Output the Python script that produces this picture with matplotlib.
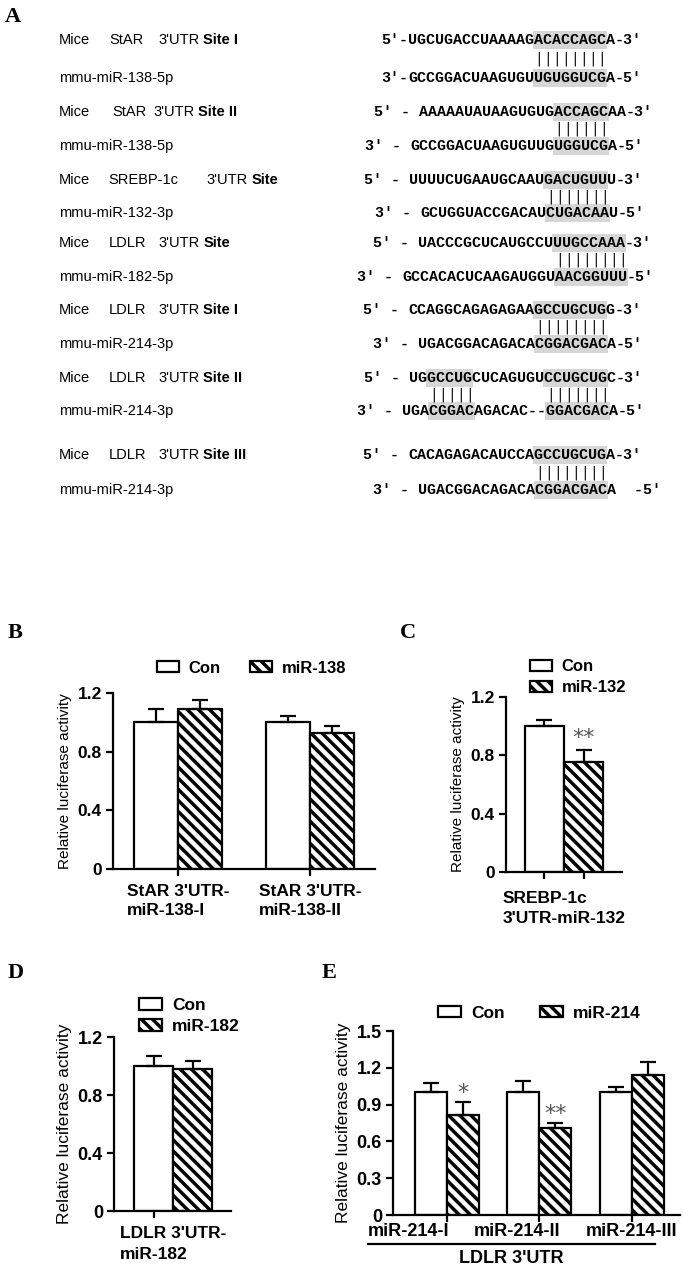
import numpy as np
import matplotlib.pyplot as plt
from matplotlib.patches import Rectangle
from matplotlib.transforms import ScaledTranslation

# ---------------- panel A : predicted binding sites ----------------
site_genes = ['StAR', 'StAR', 'SREBP-1c', 'LDLR', 'LDLR', 'LDLR', 'LDLR']
site_names = ['Site I', 'Site II', 'Site', 'Site', 'Site I', 'Site II', 'Site III']
mirna_names = ['mmu-miR-138-5p', 'mmu-miR-138-5p', 'mmu-miR-132-3p', 'mmu-miR-182-5p',
               'mmu-miR-214-3p', 'mmu-miR-214-3p', 'mmu-miR-214-3p']
target_seqs = ['UGCUGACCUAAAAGACACCAGCA', 'AAAAAUAUAAGUGUGACCAGCAA', 'UUUUCUGAAUGCAAUGACUGUUU',
               'UACCCGCUCAUGCCUUUGCCAAA', 'CCAGGCAGAGAGAAGCCUGCUGG', 'UGGCCUGCUCAGUGUCCUGCUGC',
               'CACAGAGACAUCCAGCCUGCUGA']
mirna_seqs = ['GCCGGACUAAGUGUUGUGGUCGA', 'GCCGGACUAAGUGUUGUGGUCGA', 'GCUGGUACCGACAUCUGACAAU',
              'GCCACACUCAAGAUGGUAACGGUUU', 'UGACGGACAGACACGGACGACA', 'UGACGGACAGACAC--GGACGACA',
              'UGACGGACAGACACGGACGACA']
# paired (seed) stretches, as [start, end) character indices
target_pairs = [[(14, 22)], [(15, 21)], [(15, 22)], [(15, 23)], [(14, 22)], [(2, 7), (15, 22)], [(14, 22)]]
mirna_pairs = [[(14, 22)], [(16, 22)], [(14, 21)], [(17, 25)], [(13, 21)], [(3, 8), (16, 23)], [(13, 21)]]

# ---------------- panels B-E : luciferase assays ----------------
b_groups = ["StAR 3'UTR-\nmiR-138-I", "StAR 3'UTR-\nmiR-138-II"]
b_con = [1.0, 1.0]
b_con_err = [0.09, 0.04]
b_mir = [1.09, 0.93]
b_mir_err = [0.06, 0.045]

c_groups = ["SREBP-1c\n3'UTR-miR-132"]
c_con = [1.0]
c_con_err = [0.04]
c_mir = [0.755]
c_mir_err = [0.085]
c_stars = ['**']

d_groups = ["LDLR 3'UTR-\nmiR-182"]
d_con = [1.0]
d_con_err = [0.07]
d_mir = [0.98]
d_mir_err = [0.055]

e_groups = ['miR-214-I', 'miR-214-II', 'miR-214-III']
e_con = [1.0, 1.0, 1.0]
e_con_err = [0.08, 0.09, 0.04]
e_mir = [0.815, 0.71, 1.14]
e_mir_err = [0.105, 0.04, 0.105]
e_stars = ['*', '**', '']

W, H = 683, 1268
plt.rcParams['font.family'] = ['Liberation Sans', 'DejaVu Sans']
plt.rcParams['hatch.linewidth'] = 2.5
fig = plt.figure(figsize=(W / 100, H / 100), dpi=100)


def px_axes(l, t, r, b):
    return fig.add_axes([l / W, 1 - b / H, (r - l) / W, (b - t) / H])


# background axes in pixel units for panel A and panel letters
ax0 = fig.add_axes([0, 0, 1, 1])
ax0.set_xlim(0, W)
ax0.set_ylim(H, 0)
ax0.axis('off')

for lab, (x, y) in zip('ABCDE', [(5, 17), (8, 633), (400, 633), (8, 973), (322, 973)]):
    ax0.text(x, y, lab, family='Liberation Serif', weight='bold', size=16, va='center')

mono = ['Liberation Mono', 'DejaVu Sans Mono']
cw = 9.0                      # character advance in px
seq_fs = cw / (0.6 * 100 / 72)
target_y = [40, 112, 180, 243, 310, 378, 455]
mirna_y = [78, 146, 213, 277, 344, 411, 490]
target_x0 = [408, 419, 409, 418, 408, 409, 408]
mirna_x0 = [408, 410, 420, 402, 418, 402, 418]
gene_x = [109, 112, 108, 109, 109, 109, 109]
utr_x = [158, 153, 206, 158, 158, 158, 158]

for i in range(len(site_genes)):
    ty, my = target_y[i], mirna_y[i]
    ax0.text(59, ty, 'Mice', size=10.5, va='center')
    ax0.text(gene_x[i], ty, site_genes[i], size=10.5, va='center')
    utr = ax0.text(utr_x[i], ty, "3'UTR", size=10.5, va='center')
    ax0.annotate(site_names[i], xy=(1, 0), xycoords=utr, xytext=(3, 0),
                 textcoords='offset points', va='bottom', size=10.5, weight='bold')
    ax0.text(59, my, mirna_names[i], size=10.5, va='center')

    dash = '-' if i == 0 else ' - '
    for seq, x0, y, pairs, p5, p3 in [(target_seqs[i], target_x0[i], ty, target_pairs[i], '5′', '3′'),
                                       (mirna_seqs[i], mirna_x0[i], my, mirna_pairs[i], '3′', '5′')]:
        for a, b in pairs:
            ax0.add_patch(Rectangle((x0 + a * cw - 1, y - 9), (b - a) * cw + 2, 18,
                                    color='#d6d6d6', lw=0, zorder=0))
        ax0.text(x0, y, p5 + dash, family=mono, weight='bold', size=seq_fs, ha='right', va='center')
        ax0.text(x0, y, seq, family=mono, weight='bold', size=seq_fs, va='center')
        tail = '  -' if (i == 6 and p3 == '5′') else '-'
        ax0.text(x0 + len(seq) * cw, y, tail + p3, family=mono, weight='bold', size=seq_fs, va='center')
    by = (ty + my) / 2
    for a, b in mirna_pairs[i]:
        for k in range(a, b):
            ax0.text(mirna_x0[i] + (k + 0.5) * cw, by, '|', family='DejaVu Sans', size=10,
                     ha='center', va='center')


def bars(ax, con, con_err, mir, mir_err, width, ymax, yticks, fs):
    x = np.arange(len(con))
    b1 = ax.bar(x - width / 2, con, width, color='white', edgecolor='black', linewidth=1.6, zorder=2)
    b2 = ax.bar(x + width / 2, mir, width, color='white', edgecolor='black', hatch='\\\\\\',
                linewidth=1.6, zorder=2)
    ax.errorbar(x - width / 2, con, yerr=[np.zeros(len(con)), con_err], fmt='none', ecolor='black',
                elinewidth=1.6, capsize=6, capthick=1.6, zorder=3)
    ax.errorbar(x + width / 2, mir, yerr=[np.zeros(len(mir)), mir_err], fmt='none', ecolor='black',
                elinewidth=1.6, capsize=6, capthick=1.6, zorder=3)
    ax.set_ylim(0, ymax)
    ax.set_yticks(yticks, labels=[('%g' % v) for v in yticks], fontsize=fs, fontweight='bold')
    for s in ['top', 'right']:
        ax.spines[s].set_visible(False)
    for s in ['left', 'bottom']:
        ax.spines[s].set_linewidth(1.6)
    ax.tick_params(axis='both', which='both', direction='out', length=5, width=1.6, pad=3)
    ax.patch.set_alpha(0)
    return b1, b2


def legend(ax, handles, labels, x, y, ncol, fs, colsp=2.0):
    ax.legend(handles, labels, loc='center left', bbox_to_anchor=(x / W, 1 - y / H),
              bbox_transform=fig.transFigure, ncol=ncol, frameon=False,
              prop={'weight': 'bold', 'size': fs}, handlelength=1.3, handleheight=0.65,
              handletextpad=0.6, columnspacing=colsp, borderpad=0, borderaxespad=0, labelspacing=0.35)


ylab = 'Relative luciferase activity'

# B
axb = px_axes(113, 693, 375, 869)
h = bars(axb, b_con, b_con_err, b_mir, b_mir_err, 0.333, 1.2, [0, 0.4, 0.8, 1.2], 12.5)
axb.set_xlim(-0.49, 1.49)
axb.set_xticks(range(len(b_groups)), labels=b_groups, fontsize=12.5, fontweight='bold',
               multialignment='left', linespacing=1.35)
axb.tick_params(axis='x', pad=6)
axb.set_ylabel(ylab, fontsize=11, labelpad=4)
legend(axb, h, ['Con', 'miR-138'], 157, 668, 2, 12, colsp=1.75)

# C
axc = px_axes(506, 697, 622, 872)
h = bars(axc, c_con, c_con_err, c_mir, c_mir_err, 0.33, 1.2, [0, 0.4, 0.8, 1.2], 12.5)
axc.set_xlim(-0.49, 0.49)
axc.set_xticks([0], labels=c_groups, fontsize=12.5, fontweight='bold', multialignment='left',
               linespacing=1.35)
axc.set_xticks([-0.165, 0.165], minor=True)
axc.tick_params(axis='x', which='major', length=0, pad=14)
axc.set_ylabel(ylab, fontsize=11, labelpad=4)
legend(axc, h, ['Con', 'miR-132'], 530, 677, 1, 12)
for i, s in enumerate(c_stars):
    axc.text(i + 0.165, c_mir[i] + c_mir_err[i] + 0.08, s, ha='center', va='center',
             fontsize=16, color='#555555', family='DejaVu Sans')

# D
axd = px_axes(114, 1037, 231, 1211)
h = bars(axd, d_con, d_con_err, d_mir, d_mir_err, 0.33, 1.2, [0, 0.4, 0.8, 1.2], 13)
axd.set_xlim(-0.5, 0.49)
axd.set_xticks([0], labels=d_groups, fontsize=12.5, fontweight='bold', multialignment='left',
               linespacing=1.45)
axd.set_xticks([-0.165], minor=True)
axd.tick_params(axis='x', which='major', length=0, pad=11)
axd.set_ylabel(ylab, fontsize=12.5, labelpad=4)
legend(axd, h, ['Con', 'miR-182'], 139, 1016, 1, 12.5)

# E
axe = px_axes(393, 1031, 680, 1215)
h = bars(axe, e_con, e_con_err, e_mir, e_mir_err, 0.345, 1.5, [0, 0.3, 0.6, 0.9, 1.2, 1.5], 13)
axe.set_xlim(-0.58, 2.52)
axe.set_xticks(range(len(e_groups)), labels=e_groups, fontsize=13, fontweight='bold')
axe.tick_params(axis='x', pad=1)
# the category labels sit packed to the left of their ticks, as in the source figure
for lbl, dx in zip(axe.get_xticklabels(), [-38, -22, 0]):
    lbl.set_transform(lbl.get_transform() + ScaledTranslation(dx / 100, 0, fig.dpi_scale_trans))
axe.set_ylabel(ylab, fontsize=12.5, labelpad=4)
legend(axe, h, ['Con', 'miR-214'], 438, 1013, 2, 12.5, colsp=2.05)
for i, s in enumerate(e_stars):
    axe.text(i + 0.1725, e_mir[i] + e_mir_err[i] + 0.075, s, ha='center', va='center',
             fontsize=16, color='#555555', family='DejaVu Sans')
tr = axe.get_xaxis_transform()
axe.plot([-0.85, 2.25], [-0.155, -0.155], transform=tr, clip_on=False, color='black', lw=1.6)
axe.text(0.7, -0.235, "LDLR 3'UTR", transform=tr, ha='center', va='center', fontsize=13, fontweight='bold')

fig.savefig('out.png', dpi=100)
